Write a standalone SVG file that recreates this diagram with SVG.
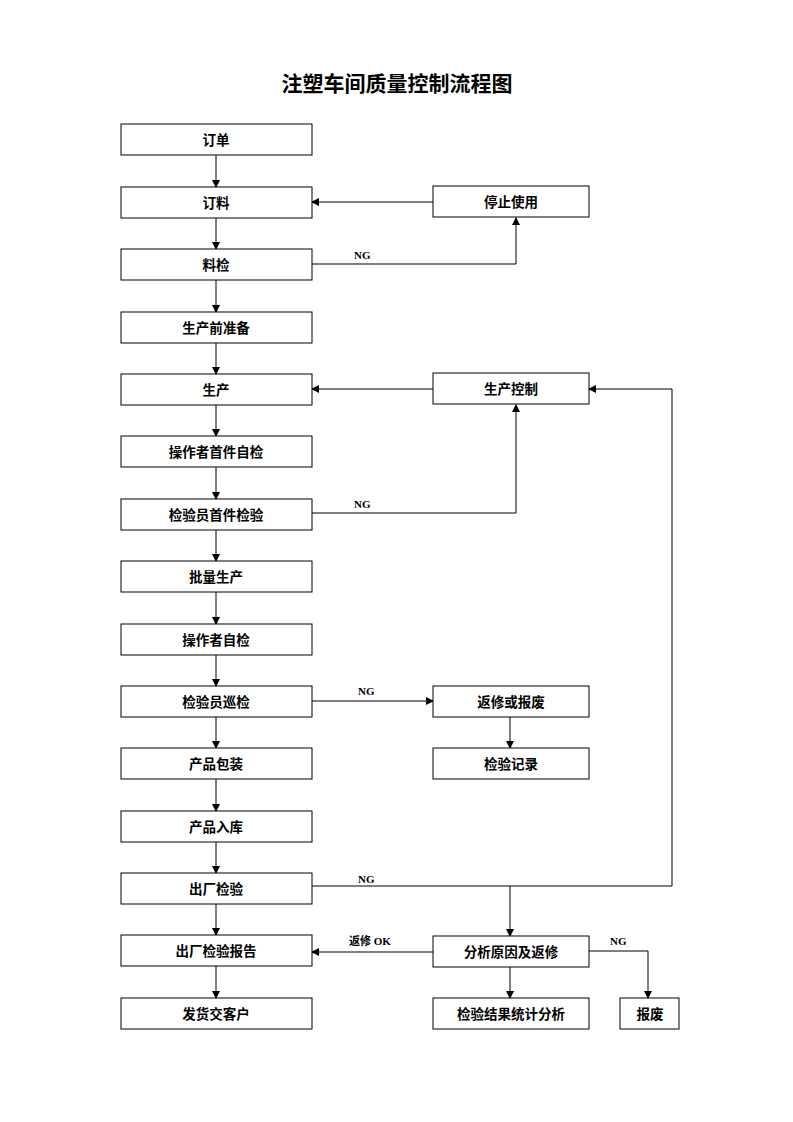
<svg xmlns="http://www.w3.org/2000/svg" width="793" height="1122" viewBox="0 0 793 1122">
<defs>
<marker id="ah" markerWidth="8" markerHeight="8" refX="7" refY="4" orient="auto" markerUnits="userSpaceOnUse">
<path d="M0,0 L8,4 L0,8 Z" fill="#000"/>
</marker>
</defs>
<style>
.box{fill:#fff;stroke:#000;stroke-width:1}
.t{font-family:"Noto Sans CJK SC","Noto Sans",sans-serif;font-size:13.5px;font-weight:bold;text-anchor:middle;dominant-baseline:central;fill:#000}
.lbl{font-family:"Liberation Serif","Noto Sans CJK SC",serif;font-size:11px;font-weight:bold;fill:#000}
.c{fill:none;stroke:#000;stroke-width:1}
.a{marker-end:url(#ah)}
.title{font-family:"Noto Sans CJK SC","Noto Sans",sans-serif;font-size:21px;font-weight:bold;text-anchor:middle;fill:#000}
</style>
<rect width="793" height="1122" fill="#fff"/>
<text class="title" x="397" y="91">注塑车间质量控制流程图</text>
<g id="connectors">
<line class="c a" x1="216" y1="155" x2="216" y2="187"/>
<line class="c a" x1="216" y1="218" x2="216" y2="249"/>
<line class="c a" x1="216" y1="280" x2="216" y2="312"/>
<line class="c a" x1="216" y1="343" x2="216" y2="374"/>
<line class="c a" x1="216" y1="405" x2="216" y2="436"/>
<line class="c a" x1="216" y1="467" x2="216" y2="499"/>
<line class="c a" x1="216" y1="530" x2="216" y2="561"/>
<line class="c a" x1="216" y1="592" x2="216" y2="624"/>
<line class="c a" x1="216" y1="655" x2="216" y2="686"/>
<line class="c a" x1="216" y1="717" x2="216" y2="748"/>
<line class="c a" x1="216" y1="779" x2="216" y2="811"/>
<line class="c a" x1="216" y1="842" x2="216" y2="873"/>
<line class="c a" x1="216" y1="904" x2="216" y2="935"/>
<line class="c a" x1="216" y1="966" x2="216" y2="998"/>
<line class="c a" x1="433" y1="202" x2="312" y2="202"/>
<polyline class="c a" points="312,264 516,264 516,218"/>
<line class="c a" x1="433" y1="389" x2="312" y2="389"/>
<polyline class="c a" points="312,513 516,513 516,405"/>
<polyline class="c a" points="312,886 672,886 672,389 589,389"/>
<line class="c a" x1="510" y1="886" x2="510" y2="936"/>
<line class="c a" x1="312" y1="701" x2="433" y2="701"/>
<line class="c a" x1="510" y1="717" x2="510" y2="748"/>
<line class="c a" x1="433" y1="952" x2="312" y2="952"/>
<line class="c a" x1="510" y1="967" x2="510" y2="998"/>
<polyline class="c a" points="589,951 648,951 648,998"/>
<text class="lbl" x="354" y="259">NG</text>
<text class="lbl" x="354" y="508">NG</text>
<text class="lbl" x="358" y="695">NG</text>
<text class="lbl" x="358" y="883">NG</text>
<text class="lbl" x="349" y="945">返修 OK</text>
<text class="lbl" x="610" y="945">NG</text>
</g>
<g id="n1"><rect class="box" x="121" y="124" width="191" height="31"/><text class="t" x="216" y="139">订单</text></g>
<g id="n2"><rect class="box" x="121" y="187" width="191" height="31"/><text class="t" x="216" y="202">订料</text></g>
<g id="n3"><rect class="box" x="121" y="249" width="191" height="31"/><text class="t" x="216" y="264">料检</text></g>
<g id="n4"><rect class="box" x="121" y="312" width="191" height="31"/><text class="t" x="216" y="327">生产前准备</text></g>
<g id="n5"><rect class="box" x="121" y="374" width="191" height="31"/><text class="t" x="216" y="389">生产</text></g>
<g id="n6"><rect class="box" x="121" y="436" width="191" height="31"/><text class="t" x="216" y="451">操作者首件自检</text></g>
<g id="n7"><rect class="box" x="121" y="499" width="191" height="31"/><text class="t" x="216" y="514">检验员首件检验</text></g>
<g id="n8"><rect class="box" x="121" y="561" width="191" height="31"/><text class="t" x="216" y="576">批量生产</text></g>
<g id="n9"><rect class="box" x="121" y="624" width="191" height="31"/><text class="t" x="216" y="639">操作者自检</text></g>
<g id="n10"><rect class="box" x="121" y="686" width="191" height="31"/><text class="t" x="216" y="701">检验员巡检</text></g>
<g id="n11"><rect class="box" x="121" y="748" width="191" height="31"/><text class="t" x="216" y="763">产品包装</text></g>
<g id="n12"><rect class="box" x="121" y="811" width="191" height="31"/><text class="t" x="216" y="826">产品入库</text></g>
<g id="n13"><rect class="box" x="121" y="873" width="191" height="31"/><text class="t" x="216" y="888">出厂检验</text></g>
<g id="n14"><rect class="box" x="121" y="935" width="191" height="31"/><text class="t" x="216" y="950">出厂检验报告</text></g>
<g id="n15"><rect class="box" x="121" y="998" width="191" height="31"/><text class="t" x="216" y="1013">发货交客户</text></g>
<g id="r1"><rect class="box" x="433" y="186" width="156" height="31"/><text class="t" x="511" y="201">停止使用</text></g>
<g id="r2"><rect class="box" x="433" y="373" width="156" height="31"/><text class="t" x="511" y="388">生产控制</text></g>
<g id="r3"><rect class="box" x="433" y="686" width="156" height="31"/><text class="t" x="511" y="701">返修或报废</text></g>
<g id="r4"><rect class="box" x="433" y="748" width="156" height="31"/><text class="t" x="511" y="763">检验记录</text></g>
<g id="r5"><rect class="box" x="433" y="936" width="156" height="31"/><text class="t" x="511" y="951">分析原因及返修</text></g>
<g id="r6"><rect class="box" x="433" y="998" width="156" height="31"/><text class="t" x="511" y="1013">检验结果统计分析</text></g>
<g id="r7"><rect class="box" x="620" y="998" width="59" height="31"/><text class="t" x="650" y="1013">报废</text></g>
</svg>
